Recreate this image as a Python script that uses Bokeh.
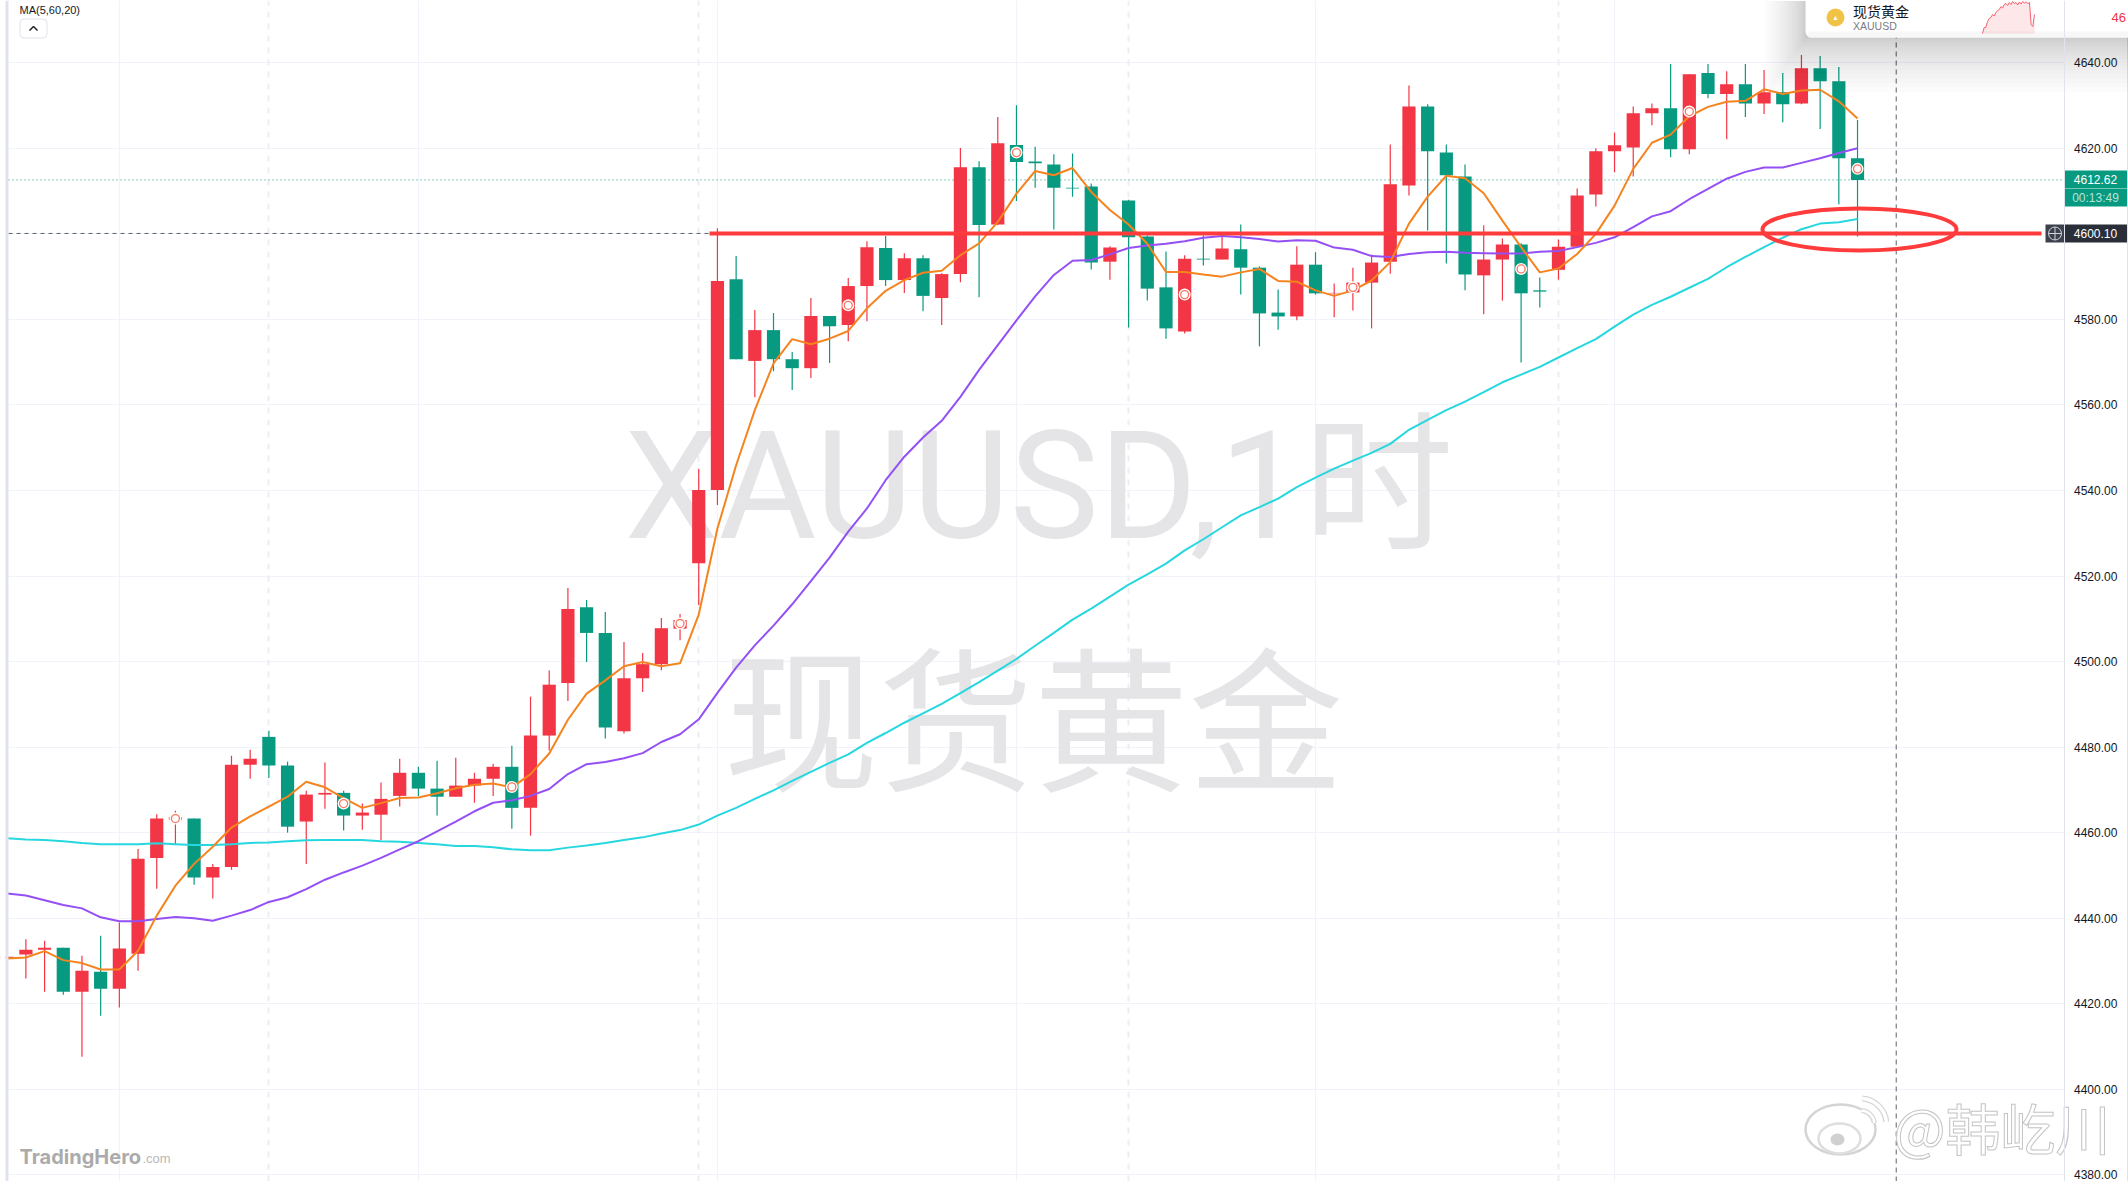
from bokeh.plotting import figure
from bokeh.models import Range1d, LinearAxis, FixedTicker, NumeralTickFormatter, Grid
from bokeh.core.properties import value
from bokeh.embed import file_html
from bokeh.resources import INLINE

# ---------- chart data (index -1 .. 98, hourly bars) ----------
opens = [4430.7,4431.5,4432.6,4433.1,4422.8,4427.5,4423.5,4431.7,4454.1,4463.0,4463.3,4449.5,4452.0,4475.9,4482.4,4475.7,4462.6,4468.9,4469.3,4464.0,
 4464.2,4468.6,4474.0,4470.3,4468.4,4471.0,4472.6,4475.4,4465.8,4482.7,4495.0,4512.7,4506.7,4483.7,4496.1,4499.4,4507.7,4523.0,4540.1,4589.4,
 4570.3,4577.5,4570.7,4568.6,4580.8,4578.7,4587.8,4596.7,4589.2,4594.3,4585.0,4590.6,4615.6,4602.2,4620.8,4616.9,4616.2,4610.8,4611.1,4593.5,
 4607.8,4599.4,4587.5,4577.2,4594.2,4594.0,4596.4,4592.1,4581.6,4580.7,4592.8,4586.1,4586.3,4588.6,4593.5,4611.3,4629.8,4619.0,4613.4,4590.3,
 4594.0,4597.5,4586.8,4591.6,4597.0,4609.2,4619.3,4620.2,4628.2,4629.4,4619.8,4637.6,4632.7,4635.0,4630.5,4633.1,4630.5,4638.7,4635.7,4617.7]
closes = [4431.0,4432.6,4433.1,4422.8,4427.7,4423.5,4432.9,4453.9,4463.3,4463.6,4449.5,4452.0,4475.9,4477.3,4475.7,4461.4,4468.9,4469.3,4464.0,4464.7,
 4467.9,4474.0,4470.3,4468.4,4471.0,4472.6,4475.4,4465.8,4482.7,4494.6,4512.3,4506.7,4484.6,4496.1,4499.4,4507.8,4509.7,4540.1,4589.0,4570.7,
 4577.5,4570.7,4568.6,4580.8,4578.4,4587.8,4596.9,4589.2,4594.3,4585.5,4590.6,4615.6,4602.1,4621.2,4616.8,4616.5,4610.8,4610.6,4593.3,4596.8,
 4599.2,4587.2,4577.9,4594.2,4594.0,4596.6,4592.1,4581.4,4580.7,4592.8,4586.1,4586.2,4588.6,4593.3,4611.6,4629.8,4619.3,4613.7,4590.5,4594.0,
 4597.5,4586.1,4586.5,4597.0,4609.0,4619.3,4620.7,4628.2,4629.4,4619.8,4637.3,4632.7,4635.0,4630.5,4633.1,4630.3,4638.7,4635.7,4617.7,4612.62]
highs = [4431.3,4435.1,4434.7,4433.1,4431.2,4435.9,4439.0,4456.2,4464.3,4465.1,4463.3,4452.7,4478.0,4479.4,4483.8,4476.6,4469.8,4476.4,4469.8,4466.8,
 4471.7,4477.3,4475.4,4476.8,4477.5,4474.0,4476.1,4480.3,4491.8,4497.9,4517.2,4514.4,4511.6,4504.6,4502.0,4510.2,4511.1,4545.0,4601.3,4594.8,
 4582.2,4581.5,4572.4,4585.0,4580.8,4589.7,4598.3,4599.5,4595.5,4595.0,4590.8,4620.1,4617.0,4627.3,4630.1,4620.4,4618.6,4618.8,4611.8,4597.1,
 4608.0,4599.6,4595.9,4595.0,4599.6,4599.6,4602.2,4592.4,4587.0,4597.1,4595.7,4588.4,4592.1,4595.2,4620.9,4634.7,4630.3,4620.9,4616.2,4602.0,
 4598.9,4597.8,4589.8,4598.7,4610.6,4620.0,4623.7,4629.8,4630.5,4639.7,4637.3,4639.7,4638.0,4639.7,4638.3,4637.6,4641.8,4641.6,4639.0,4626.6]
lows = [4430.4,4425.9,4422.8,4422.1,4407.6,4417.2,4419.1,4427.7,4446.9,4457.3,4447.8,4444.6,4451.3,4472.6,4472.8,4460.0,4452.7,4465.6,4460.5,4460.7,
 4458.3,4466.1,4468.6,4464.0,4468.4,4467.0,4468.6,4460.9,4459.3,4479.2,4490.8,4499.9,4482.0,4483.2,4492.9,4498.0,4505.0,4513.2,4536.6,4570.7,
 4561.8,4567.9,4563.5,4566.3,4569.8,4574.9,4579.6,4587.8,4586.2,4581.9,4578.7,4588.7,4585.2,4602.0,4607.7,4610.8,4601.0,4608.7,4591.7,4589.3,
 4578.1,4584.4,4575.5,4576.7,4592.6,4594.0,4585.8,4573.7,4577.6,4579.8,4585.8,4580.5,4582.1,4577.9,4590.7,4609.0,4600.8,4593.1,4586.8,4581.2,
 4584.4,4569.9,4582.8,4589.3,4597.0,4606.4,4614.4,4613.4,4625.4,4617.9,4618.6,4631.7,4622.1,4627.3,4628.0,4626.1,4630.3,4624.5,4606.9,4599.4]
ma5 = [4430.6,4430.8,4432.3,4430.2,4429.5,4428.0,4428.0,4432.4,4440.6,4447.6,4452.7,4456.7,4461.2,4463.8,4466.1,4468.4,4471.9,4470.6,4468.1,4465.8,
 4466.9,4468.1,4468.2,4469.2,4470.4,4471.2,4471.5,4470.6,4473.7,4478.5,4486.4,4492.5,4495.6,4498.9,4499.9,4498.9,4499.6,4511.0,4531.1,4545.9,
 4558.8,4569.7,4575.4,4574.2,4575.5,4577.3,4582.6,4586.7,4589.2,4590.9,4591.4,4595.0,4597.8,4602.8,4609.4,4614.7,4613.7,4615.4,4609.8,4605.6,
 4602.2,4597.7,4591.1,4591.1,4590.5,4590.0,4591.0,4591.8,4589.0,4588.8,4586.8,4585.5,4586.8,4589.1,4593.4,4602.4,4608.7,4613.6,4613.0,4609.5,
 4603.1,4596.9,4591.0,4591.9,4595.3,4600.0,4606.6,4615.2,4621.3,4623.2,4627.5,4629.7,4630.9,4631.1,4633.8,4632.7,4633.5,4633.7,4631.0,4627.0]
ma20 = [4445.8,4445.3,4444.2,4443.1,4442.3,4440.2,4439.3,4439.3,4439.8,4440.3,4440.0,4439.4,4440.6,4441.9,4443.8,4444.9,4446.8,4449.0,4450.7,4452.3,
 4454.1,4456.1,4458.0,4460.3,4462.6,4465.0,4467.0,4467.6,4468.6,4470.2,4473.7,4476.0,4476.5,4477.4,4478.6,4481.2,4483.0,4486.5,4492.7,4498.6,
 4503.8,4508.4,4513.4,4518.8,4524.3,4530.4,4535.8,4542.4,4547.9,4552.4,4556.3,4561.9,4568.2,4574.0,4579.8,4585.4,4590.4,4593.7,4593.9,4595.2,
 4596.7,4597.3,4597.7,4598.3,4599.1,4599.5,4599.2,4598.8,4598.2,4598.5,4598.4,4596.8,4596.3,4594.8,4594.6,4595.3,4595.7,4595.8,4595.6,4595.5,
 4595.4,4595.4,4595.8,4596.0,4596.9,4597.9,4599.2,4601.6,4604.1,4605.3,4608.1,4610.5,4612.9,4614.5,4615.5,4615.5,4616.6,4617.7,4618.9,4620.0]
ma60 = [4458.7,4458.4,4458.3,4458.0,4457.6,4457.3,4457.3,4457.3,4457.5,4457.3,4457.1,4457.1,4457.3,4457.6,4457.7,4458.0,4458.2,4458.3,4458.3,4458.3,
 4458.0,4457.9,4457.6,4457.3,4456.9,4456.9,4456.6,4456.1,4455.9,4455.9,4456.5,4457.0,4457.6,4458.3,4458.9,4459.8,4460.6,4461.9,4464.0,4465.8,
 4467.9,4469.9,4472.1,4474.2,4476.3,4478.3,4481.0,4483.3,4485.7,4487.9,4490.1,4492.6,4495.2,4497.9,4500.6,4503.7,4506.7,4509.8,4512.4,4515.2,
 4518.0,4520.4,4522.9,4526.0,4528.6,4531.4,4534.2,4536.1,4538.1,4540.8,4543.0,4545.1,4547.0,4548.8,4550.9,4554.2,4556.5,4558.8,4560.8,4563.0,
 4565.3,4567.1,4568.9,4571.1,4573.3,4575.4,4578.3,4581.1,4583.4,4585.3,4587.4,4589.5,4592.2,4594.6,4596.9,4599.1,4601.1,4602.4,4602.7,4603.5]
bar_index = list(range(-1, 99))
marker_bars = [8, 17, 26, 35, 44, 53, 62, 71, 80, 89, 98]
marker_prices = [4463.3, 4466.8, 4470.7, 4508.9, 4583.3, 4619.0, 4585.8, 4587.5, 4591.8, 4628.6, 4615.2]
price_ticks = list(range(4380, 4641, 20))
axis_ticks = [t for t in price_ticks if t != 4600]   # 4600 sits under the level tag
solid_bars = [5, 21, 37, 53, 69, 85]
session_bars = [13, 36, 59, 82]
last_price = 4612.62
level_price = 4600.10
cursor_bar = 100.07
spark_values = [0, 60, 60, 120, 150, 160, 190, 175, 210, 230, 240, 270, 255, 290, 300, 280, 310, 290, 320, 300, 310, 285, 315, 295, 320, 305, 315, 300, 310, 90, 70, 190]

# ---------- page geometry ----------
W, H = 2128, 1181
X0, BAR = 25.4, 18.69       # pixel of bar 0, pixels per bar
Y0, PXU = 62.3, 4.277       # pixel of 4640, pixels per price unit
def X(px): return (px - X0) / BAR
def Y(py): return 4640 - (py - Y0) / PXU

RED, GREEN, ORANGE, PURPLE, CYAN = "#f23645", "#089981", "#f5841f", "#9450f5", "#26d7df"
GRID = "#f0f3fa"
SANS = "Liberation Sans"
CJK = "Noto Sans CJK SC"

p = figure(width=W, height=H, output_backend="svg", toolbar_location=None,
           x_range=Range1d(X(0), X(W)), y_range=Range1d(Y(H), Y(0)),
           x_axis_location=None, y_axis_location=None, min_border=0,
           outline_line_color=None, background_fill_color="white", border_fill_color="white",
           margin=(0, 0, 0, 0))
p.grid.visible = False
p.add_layout(Grid(dimension=1, ticker=FixedTicker(ticks=price_ticks), grid_line_color=GRID, grid_line_width=1.2))
p.add_layout(Grid(dimension=0, ticker=FixedTicker(ticks=solid_bars), grid_line_color=GRID, grid_line_width=1.2))
p.add_layout(Grid(dimension=0, ticker=FixedTicker(ticks=session_bars), grid_line_color="#eceef4",
                  grid_line_width=2, grid_line_dash=[6, 6]))

def box(l, r, t, b, color, **kw):
    return p.quad(left=[X(l)], right=[X(r)], top=[Y(t)], bottom=[Y(b)], fill_color=color,
                  line_color=kw.pop("line_color", None), **kw)
def txt(px, py, s, size, color, font=SANS, align="left", base="middle", **kw):
    return p.text(x=[X(px)], y=[Y(py)], text=[s], text_font=value(font), text_font_size=value(size), text_color=color,
                  text_align=align, text_baseline=base, **kw)

# watermarks
WM = "#e5e5e8"
txt(624, 486, "XAUUSD,1时", "150px", WM, font="Roboto, 'Noto Sans CJK SC'", base="alphabetic")
txt(1033, 711, "现货黄金", "155px", WM, font=CJK, align="center")

# reference lines under the candles
p.line([X(8), X(710)], [level_price] * 2, line_color="#5d606b", line_width=1, line_dash=[4, 4])
p.line([X(8), X(2063)], [last_price] * 2, line_color=GREEN, line_width=1, line_dash=[1, 3])
p.line([cursor_bar] * 2, [Y(H), Y(0)], line_color="#5d606b", line_width=1, line_dash=[5, 4])

# candles
up = [c >= o for o, c in zip(opens, closes)]
colors = [RED if u else GREEN for u in up]
p.segment(x0=bar_index, x1=bar_index, y0=lows, y1=highs, line_color=colors, line_width=1.2)
p.vbar(x=bar_index, width=13.2 / BAR, top=[max(o, c) for o, c in zip(opens, closes)],
       bottom=[min(o, c) for o, c in zip(opens, closes)], fill_color=colors, line_color=None)

# moving averages
p.line(bar_index, ma60, line_color=CYAN, line_width=2)
p.line(bar_index, ma20, line_color=PURPLE, line_width=2)
p.line(bar_index, ma5, line_color=ORANGE, line_width=2)

# event markers
p.scatter(marker_bars, marker_prices, size=12, marker="circle", fill_color="white", line_color=None)
p.scatter(marker_bars, marker_prices, size=8, marker="circle", fill_color="white", line_color="#f7775e", line_width=1.3)

# drawn annotations
p.line([X(709), X(2041)], [level_price] * 2, line_color="#ff3b3b", line_width=4)
p.ellipse(x=[X(1859)], y=[Y(229)], width=[194 / BAR], height=[42 / PXU], fill_color=None,
          line_color="#ff3b3b", line_width=4)

# price axis background and frame strips
box(2064, W, 0, H, "white")
box(0, 5, 0, H, "white")
box(5, 8, 0, H, "#e0e3eb")
box(2126.5, W, 0, H, "#e0e3eb")

# price tags
box(2063.5, 2126.5, 170, 188, GREEN)
box(2063.5, 2126.5, 188.6, 206, GREEN)
box(2063.5, 2126.5, 188, 188.6, "#5cc2ab")
txt(2095, 179, "4612.62", "12px", "white", align="center")
txt(2095, 197, "00:13:49", "12px", "#b5e3d8", align="center")
box(2045, 2064, 224, 242, "#3d404d")
box(2064, 2126.5, 224, 242, "#2a2e39")
p.scatter([X(2054.5)], [Y(233)], marker="circle_cross", size=13, fill_color=None, line_color="#d1d4dc", line_width=1)
txt(2095, 233, "4600.10", "12px", "white", align="center")

# top-left collapse button and indicator title
txt(19, 9, "MA(5,60,20)", "11px", "#131722", base="alphabetic")
box(19.5, 46.5, 18.5, 37.5, "white", line_color="#e0e3eb", line_width=1, border_radius=4)
p.line([X(29), X(33), X(37)], [Y(30), Y(26), Y(30)], line_color="#131722", line_width=1.4)

# bottom brand and weibo mark
txt(19, 1156, "TradingHero", "20px", "#ababab", font="Inter", base="alphabetic", text_font_style="bold")
txt(142, 1158, ".com", "13px", "#b8b8b8", font=SANS, base="alphabetic")

p.ellipse(x=[X(1840)], y=[Y(1129)], width=[70 / BAR], height=[50 / PXU], fill_color="white", line_color="#d4d4d4", line_width=2.5)
p.ellipse(x=[X(1839)], y=[Y(1138)], width=[42 / BAR], height=[30 / PXU], fill_color="white", line_color="#dedede", line_width=2.5)
p.ellipse(x=[X(1837)], y=[Y(1139)], width=[14 / BAR], height=[12 / PXU], fill_color="#d0d0d0", line_color=None)
for r, w in ((26, 6), (14, 5)):
    p.arc(x=[X(1860)], y=[Y(1124)], radius=[r], radius_units="screen", start_angle=[0.1], end_angle=[1.5],
          line_color="#d6d6d6", line_width=w)
    p.arc(x=[X(1860)], y=[Y(1124)], radius=[r], radius_units="screen", start_angle=[0.1], end_angle=[1.5],
          line_color="white", line_width=w - 2.5)
txt(1893, 1125, "@韩屹川", "55px", "white", font=CJK, text_outline_color="#c4c4c4")

# quote popup: shadow, card, contents
for k in range(1, 19):
    grow = (k / 18) ** 1.6
    box(1805 - 40 * grow, W, 0, 37 + 55 * grow, "#000000", fill_alpha=0.011)
box(1805, W + 10, -12, 37, "white", border_radius=6)
box(1808, W + 10, 31, 37, "#f7f7f7")
p.scatter([X(1835)], [Y(17)], marker="circle", size=18, fill_color="#f0c245", line_color=None)
p.text(x=[X(1835)], y=[Y(17)], text=["▲"], text_font_size=value("7px"), text_color="white", text_align="center", text_baseline="middle")
txt(1852.5, 10, "现货黄金", "14px", "#131722", font=CJK)
txt(1852.5, 25, "XAUUSD", "10.5px", "#787b86")

SPARK_UNIT, SPARK_STEP = 10, 52 / 31
p.extra_y_ranges["spark"] = Range1d(-(H - 33) * SPARK_UNIT, 33 * SPARK_UNIT)
p.extra_x_ranges["spark"] = Range1d(-1982 / SPARK_STEP, (W - 1982) / SPARK_STEP)
idx = list(range(len(spark_values)))
p.varea(x=idx, y1=[0] * len(idx), y2=spark_values, fill_color="#f23645", fill_alpha=0.12, x_range_name="spark", y_range_name="spark")
p.line(idx, spark_values, line_color="#f4606e", line_width=1, x_range_name="spark", y_range_name="spark")
txt(2111, 17, "46", "13px", RED)

# price axis
axis = LinearAxis(ticker=FixedTicker(ticks=axis_ticks), formatter=NumeralTickFormatter(format="0.00"),
                  fixed_location=X(2063.5), axis_line_color="#e0e3eb", major_tick_line_color=None,
                  minor_tick_line_color=None, major_label_text_color="#131722",
                  major_label_text_font=SANS, major_label_text_font_size="12px", major_label_standoff=4)
p.add_layout(axis, "right")

open("out.html", "w").write(file_html(p, INLINE))
